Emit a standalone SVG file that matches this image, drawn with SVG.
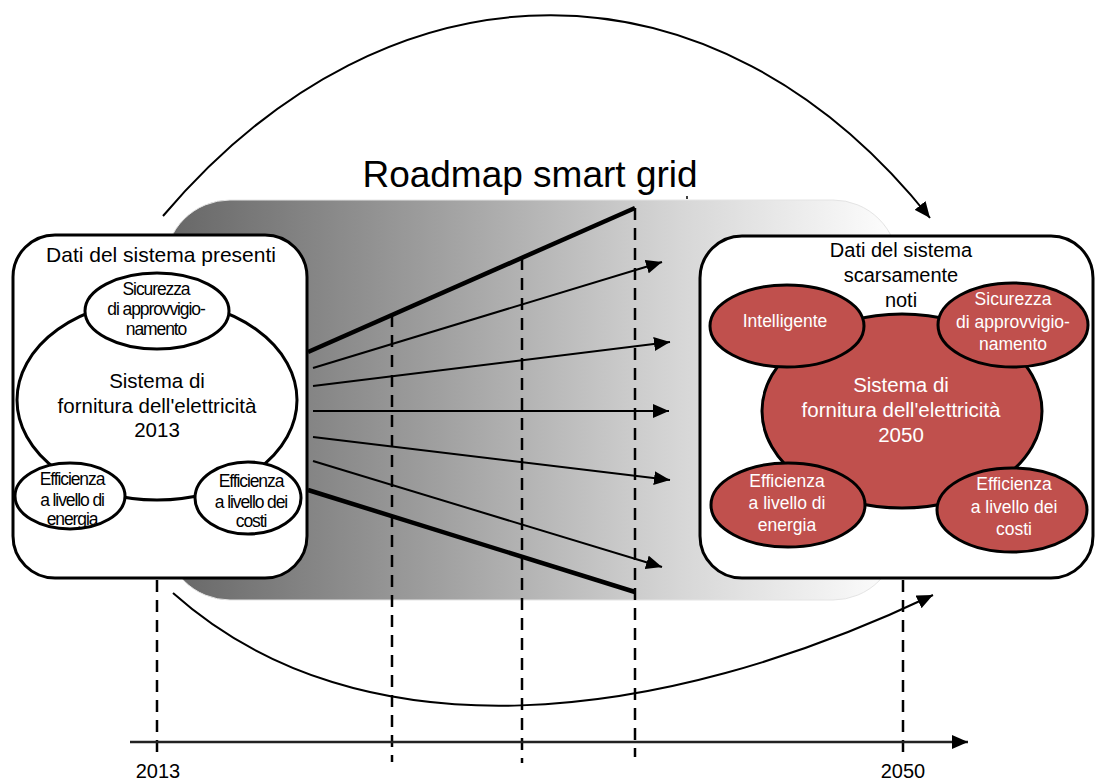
<svg xmlns="http://www.w3.org/2000/svg" width="1097" height="781" viewBox="0 0 1097 781">
<style>
text{font-family:"Liberation Sans",Arial,sans-serif;fill:#000;text-anchor:middle}
.t20{font-size:20.5px}
.t19{font-size:20px}
.t21{font-size:21px}
.sm{font-size:17.5px;letter-spacing:-1.1px}
.rs{font-size:17.5px;fill:#fff}
.rc{font-size:20.5px;fill:#fff}
.box{fill:#fff;stroke:#000;stroke-width:3}
.wel{fill:#fff;stroke:#000;stroke-width:3}
.rel{fill:#c0504d;stroke:#000;stroke-width:3}
.dash{stroke:#000;stroke-width:2.5;stroke-dasharray:12 8;fill:none}
.thin{stroke:#000;stroke-width:2;fill:none}
.thick{stroke:#000;stroke-width:4.5;fill:none}
.arc{stroke:#000;stroke-width:2;fill:none}
</style>
<defs>
<linearGradient id="grad" x1="0" y1="0" x2="1" y2="0">
<stop offset="0" stop-color="#666"/>
<stop offset="0.35" stop-color="#9c9c9c"/>
<stop offset="0.7" stop-color="#d6d6d6"/>
<stop offset="1" stop-color="#fefefe"/>
</linearGradient>
<marker id="ah" markerUnits="userSpaceOnUse" markerWidth="16" markerHeight="14" viewBox="0 0 16 14" refX="16" refY="7" orient="auto">
<path d="M0,0 L16,7 L0,14 z" fill="#000"/>
</marker>
</defs>
<g id="band">
<rect x="165" y="200" width="733" height="400" rx="65" ry="65" fill="url(#grad)" stroke="#e4e4e4" stroke-width="1"/>
</g>
<g id="title">
<text x="530" y="187" style="font-size:37px">Roadmap smart grid</text>
<line x1="687" y1="196" x2="687" y2="199" stroke="#000" stroke-width="1.5"/>
</g>
<g id="connectors">
<line class="dash" x1="392" y1="315" x2="392" y2="762"/>
<line class="dash" x1="522" y1="258" x2="522" y2="763"/>
<line class="dash" x1="635" y1="208" x2="635" y2="757"/>
<line class="dash" x1="157" y1="580" x2="157" y2="758"/>
<line class="dash" x1="903" y1="580" x2="903" y2="758"/>
<line class="thick" x1="308" y1="352" x2="635" y2="208"/>
<line class="thick" x1="308" y1="490" x2="635" y2="592"/>
<line class="thin" x1="313" y1="368" x2="662" y2="262" marker-end="url(#ah)"/>
<line class="thin" x1="313" y1="386" x2="670" y2="342" marker-end="url(#ah)"/>
<line class="thin" x1="313" y1="411" x2="669" y2="411" marker-end="url(#ah)"/>
<line class="thin" x1="313" y1="437" x2="670" y2="480" marker-end="url(#ah)"/>
<line class="thin" x1="313" y1="461" x2="662" y2="567" marker-end="url(#ah)"/>
<path class="arc" d="M163,216 C390,-52 715,-52 930,218" marker-end="url(#ah)"/>
<path class="arc" d="M173,593 C360,760 660,725 933,595" marker-end="url(#ah)"/>
<line x1="130" y1="742" x2="968" y2="742" stroke="#222" stroke-width="2.5" marker-end="url(#ah)"/>
</g>
<g id="left-box">
<rect class="box" x="13" y="235" width="294" height="343" rx="42" ry="42"/>
<text class="t21" x="161" y="262">Dati del sistema  presenti</text>
</g>
<g id="left-system">
<ellipse class="wel" cx="157" cy="400" rx="140" ry="100"/>
<text class="t20" x="157" y="388">Sistema di</text>
<text class="t20" x="157" y="413">fornitura dell'elettricità</text>
<text class="t20" x="157" y="437">2013</text>
</g>
<g id="left-sicurezza">
<ellipse class="wel" cx="157" cy="311" rx="72" ry="38"/>
<text class="sm" x="156" y="295">Sicurezza</text>
<text class="sm" x="156" y="315">di approvvigio-</text>
<text class="sm" x="156" y="335">namento</text>
</g>
<g id="left-eff-energia">
<ellipse class="wel" cx="70" cy="496" rx="55" ry="33"/>
<text class="sm" x="72" y="485">Efficienza</text>
<text class="sm" x="72" y="506">a livello di</text>
<text class="sm" x="72" y="525">energia</text>
</g>
<g id="left-eff-costi">
<ellipse class="wel" cx="248" cy="498" rx="53" ry="36"/>
<text class="sm" x="251" y="487">Efficienza</text>
<text class="sm" x="251" y="508">a livello dei</text>
<text class="sm" x="251" y="527">costi</text>
</g>
<g id="right-box">
<rect class="box" x="700" y="236" width="393" height="342" rx="42" ry="42"/>
<text class="t19" x="901" y="257">Dati del sistema</text>
<text class="t19" x="901" y="282">scarsamente</text>
<text class="t19" x="901" y="307">noti</text>
</g>
<g id="right-system">
<ellipse class="rel" cx="902" cy="411" rx="140" ry="97"/>
<text class="rc" x="901" y="392">Sistema di</text>
<text class="rc" x="901" y="417">fornitura dell'elettricità</text>
<text class="rc" x="901" y="442">2050</text>
</g>
<g id="right-intelligente">
<ellipse class="rel" cx="787" cy="326" rx="77" ry="41"/>
<text class="rs" x="785" y="327">Intelligente</text>
</g>
<g id="right-sicurezza">
<ellipse class="rel" cx="1013" cy="325" rx="75" ry="42"/>
<text class="rs" x="1013" y="305">Sicurezza</text>
<text class="rs" x="1013" y="328">di approvvigio-</text>
<text class="rs" x="1013" y="350">namento</text>
</g>
<g id="right-eff-energia">
<ellipse class="rel" cx="788" cy="505" rx="77" ry="42"/>
<text class="rs" x="787" y="487">Efficienza</text>
<text class="rs" x="787" y="509">a livello di</text>
<text class="rs" x="787" y="531">energia</text>
</g>
<g id="right-eff-costi">
<ellipse class="rel" cx="1012" cy="510" rx="75" ry="42"/>
<text class="rs" x="1014" y="490">Efficienza</text>
<text class="rs" x="1014" y="513">a livello dei</text>
<text class="rs" x="1014" y="535">costi</text>
</g>
<g id="axis-labels">
<text class="t19" x="158" y="778">2013</text>
<text class="t19" x="903" y="778">2050</text>
</g>
</svg>
